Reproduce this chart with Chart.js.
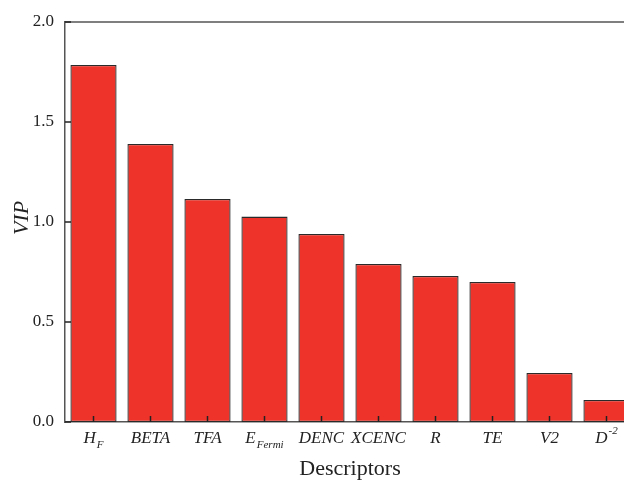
<!DOCTYPE html>
<html>
<head>
<meta charset="utf-8">
<script src="https://cdn.jsdelivr.net/npm/chart.js@4/dist/chart.umd.min.js"></script>
<style>
    html, body { margin: 0; padding: 0; background: #fff; overflow: hidden; }
    #wrap { width: 640px; height: 480px; position: relative; }
</style>
</head>
<body>
<div id="wrap"><canvas id="vipChart" width="640" height="480"></canvas></div>
<script>
// Descriptor names split into main text, subscript and superscript parts
const categories = ['H', 'BETA', 'TFA', 'E', 'DENC', 'XCENC', 'R', 'TE', 'V2', 'D'];
const subscripts = ['F', '', '', 'Fermi', '', '', '', '', '', ''];
const superscripts = ['', '', '', '', '', '', '', '', '', '-2'];
const vipValues = [1.785, 1.39, 1.115, 1.027, 0.94, 0.79, 0.73, 0.70, 0.245, 0.11];
const yTicks = [0, 0.5, 1.0, 1.5, 2.0];

const serif = '"Liberation Serif", "DejaVu Serif", serif';

// Draws the frame, inward ticks, rich x labels and axis titles.
const decorations = {
    id: 'decorations',
    afterDraw(chart) {
        const { ctx, chartArea } = chart;
        const x = chart.scales.x;
        const y = chart.scales.y;
        ctx.save();
        ctx.strokeStyle = '#555';
        ctx.lineWidth = 1.5;

        // top and right frame
        ctx.beginPath();
        ctx.moveTo(chartArea.left, chartArea.top);
        ctx.lineTo(chartArea.right, chartArea.top);
        ctx.lineTo(chartArea.right, chartArea.bottom);
        ctx.stroke();

        // inward ticks on y
        ctx.strokeStyle = '#222';
        yTicks.forEach(v => {
            const py = y.getPixelForValue(v);
            ctx.beginPath();
            ctx.moveTo(chartArea.left, py);
            ctx.lineTo(chartArea.left + 6, py);
            ctx.stroke();
        });

        // inward ticks on x
        categories.forEach((c, i) => {
            const px = x.getPixelForValue(i);
            ctx.beginPath();
            ctx.moveTo(px, chartArea.bottom);
            ctx.lineTo(px, chartArea.bottom - 6);
            ctx.stroke();
        });

        // x labels with sub/superscripts
        ctx.fillStyle = '#222';
        ctx.textBaseline = 'alphabetic';
        ctx.textAlign = 'left';
        const mainFont = 'italic 17px ' + serif;
        const smallFont = 'italic 11px ' + serif;
        const baseY = chartArea.bottom + 21;
        categories.forEach((c, i) => {
            ctx.font = mainFont;
            const wMain = ctx.measureText(c).width;
            ctx.font = smallFont;
            const extra = subscripts[i] || superscripts[i];
            const wExtra = extra ? ctx.measureText(extra).width + 1 : 0;
            let px = x.getPixelForValue(i) - (wMain + wExtra) / 2;
            ctx.font = mainFont;
            ctx.fillText(c, px, baseY);
            px += wMain + 1;
            ctx.font = smallFont;
            if (subscripts[i]) ctx.fillText(subscripts[i], px, baseY + 5);
            if (superscripts[i]) ctx.fillText(superscripts[i], px, baseY - 9);
        });

        // axis titles
        ctx.textAlign = 'center';
        ctx.font = '22px ' + serif;
        ctx.fillText('Descriptors', (chartArea.left + chartArea.right) / 2, 475);

        ctx.translate(28, (chartArea.top + chartArea.bottom) / 2 - 4);
        ctx.rotate(-Math.PI / 2);
        ctx.font = 'italic 22px ' + serif;
        ctx.fillText('VIP', 0, 0);
        ctx.restore();
    }
};

const ctx = document.getElementById('vipChart').getContext('2d');
new Chart(ctx, {
    type: 'bar',
    data: {
        labels: categories.map((c, i) => c + subscripts[i] + superscripts[i]),
        datasets: [{
            label: 'VIP',
            data: vipValues,
            backgroundColor: '#EE332B',
            borderColor: '#2a2a2a',
            borderWidth: 1.3,
            borderSkipped: false,
            barPercentage: 0.81,
            categoryPercentage: 1.0
        }]
    },
    options: {
        responsive: false,
        animation: false,
        devicePixelRatio: 1,
        layout: { padding: { top: 22, right: 5, left: 0, bottom: 0 } },
        plugins: {
            legend: { display: false },
            tooltip: { enabled: false }
        },
        scales: {
            x: {
                grid: { display: false },
                border: { display: true, color: '#555', width: 1.5 },
                ticks: { display: false },
                afterFit: (scale) => { scale.height = 58; }
            },
            y: {
                min: 0,
                max: 2,
                grid: { display: false },
                border: { display: true, color: '#555', width: 1.5 },
                afterBuildTicks: (scale) => { scale.ticks = yTicks.map(v => ({ value: v })); },
                ticks: {
                    callback: (v) => v.toFixed(1),
                    font: { family: serif, size: 17 },
                    color: '#222',
                    padding: 3
                },
                afterFit: (scale) => { scale.width = 65; }
            }
        }
    },
    plugins: [decorations]
});
</script>
</body>
</html>
